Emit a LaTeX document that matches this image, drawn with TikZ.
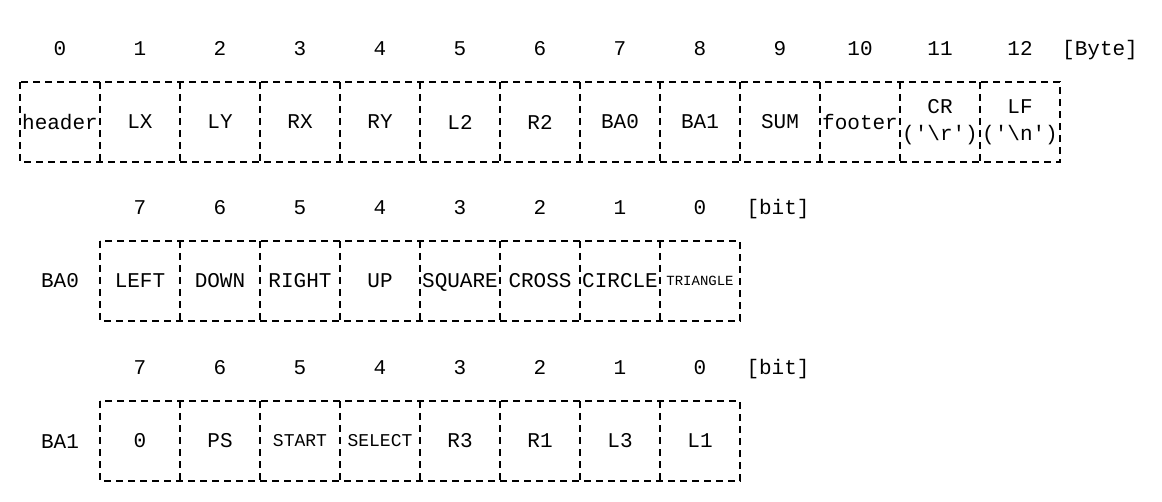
\documentclass[tikz,border=0pt]{standalone}
\usepackage{fontspec}
\setmainfont{Liberation Mono}
\tikzset{
  cell/.style={
    minimum width=80pt,
    minimum height=80pt,
    inner sep=0pt,
    outer sep=0pt,
    align=center,
    font=\fontsize{21}{27}\selectfont
  },
  border/.style={
    line width=1.7pt,
    dash pattern=on 7pt off 5pt
  },
  idx/.style={
    inner sep=0pt,
    text height=14pt,
    text depth=0pt,
    font=\fontsize{21}{24}\selectfont
  }
}
\newcommand\q{\textquotesingle}
\begin{document}
\begin{tikzpicture}[x=1pt, y=-1pt]
\useasboundingbox (0,0) rectangle (1162,502);
\newcommand\YByte{122}
\newcommand\YBaZero{281}
\newcommand\YBaOne{441}

% byte frame
\foreach \i/\txt in {0/header, 1/LX, 2/LY, 3/RX, 4/RY, 5/L2, 6/R2, 7/BA0, 8/BA1, 9/SUM, 10/footer,
                     11/{CR\\(\q\textbackslash r\q)}, 12/{LF\\(\q\textbackslash n\q)}} {
  \node[cell] (B\i) at (60+80*\i,\YByte) {\txt};
  \node[idx] (nB\i) at (60+80*\i,49) {\i};
}
\node[idx] (unitB) at (1100,49) {[Byte]};
\draw[border] (B0.north west) rectangle (B12.south east);
\foreach \i in {0,...,11} {
  \draw[border] (B\i.north east) -- (B\i.south east);
}

% BA0 bits
\node[idx] (lBA0) at (60,\YBaZero) {BA0};
\foreach \j/\txt in {0/LEFT, 1/DOWN, 2/RIGHT, 3/UP, 4/{S\smash{Q}UARE}, 5/CROSS, 6/CIRCLE,
                     7/{\fontsize{14}{16}\selectfont TRIANGLE}} {
  \node[cell] (P\j) at (140+80*\j,\YBaZero) {\txt};
  \pgfmathtruncatemacro\bit{7-\j}
  \node[idx] (nP\j) at (140+80*\j,208) {\bit};
}
\node[idx] (unitP) at (778,208) {[bit]};
\draw[border] (P0.north west) rectangle (P7.south east);
\foreach \j in {0,...,6} {
  \draw[border] (P\j.north east) -- (P\j.south east);
}

% BA1 bits
\node[idx] (lBA1) at (60,\YBaOne) {BA1};
\foreach \j/\txt in {0/0, 1/PS, 2/{\fontsize{18}{20}\selectfont START},
                     3/{\fontsize{18}{20}\selectfont SELECT}, 4/R3, 5/R1, 6/L3, 7/L1} {
  \node[cell] (Q\j) at (140+80*\j,\YBaOne) {\txt};
  \pgfmathtruncatemacro\bit{7-\j}
  \node[idx] (nQ\j) at (140+80*\j,368) {\bit};
}
\node[idx] (unitQ) at (778,368) {[bit]};
\draw[border] (Q0.north west) rectangle (Q7.south east);
\foreach \j in {0,...,6} {
  \draw[border] (Q\j.north east) -- (Q\j.south east);
}
\end{tikzpicture}
\end{document}
